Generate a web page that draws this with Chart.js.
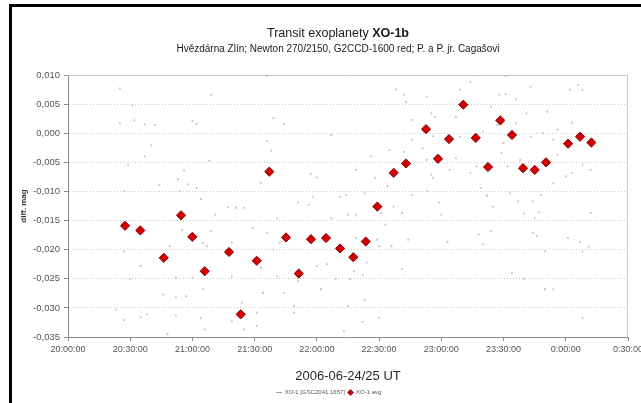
<!DOCTYPE html>
<html><head><meta charset="utf-8">
<script src="https://cdn.jsdelivr.net/npm/chart.js@4"></script>
<style>
html,body{margin:0;padding:0;background:#fff;}
#wrap{position:relative;width:641px;height:403px;overflow:hidden;}
#frame{position:absolute;left:9px;top:4px;right:-5px;bottom:-5px;border-top:3px solid #000;border-left:3px solid #000;pointer-events:none;}
canvas{position:absolute;left:0;top:0;}
</style></head><body>
<div id="wrap"><canvas id="c" width="641" height="403"></canvas><div id="frame"></div></div>
<script>
const titleNormal = 'Transit exoplanety ';
const titleBold = 'XO-1b';
const subtitle = 'Hvězdárna Zlín; Newton 270/2150, G2CCD-1600 red; P. a P. jr. Cagašovi';
const xAxisTitle = '2006-06-24/25 UT';
const yAxisTitle = 'diff. mag';
const rawLabel = 'XO-1 [GSC2041.1657]';
const avgLabel = 'XO-1 avg';
const xStart = '20:00:00';
const xEnd = '0:30:00';
const xStepMinutes = 30;
const yMin = -0.035, yMax = 0.010, yStep = 0.005;

const avgTimes = ['20:27:29','20:34:52','20:46:09','20:54:29','20:59:56','21:05:55','21:17:38','21:23:16','21:30:59','21:37:04',
'21:45:07','21:51:14','21:57:10','22:04:24','22:11:08','22:17:34','22:23:33','22:29:09','22:37:02','22:42:58',
'22:52:37','22:58:24','23:03:42','23:10:36','23:16:35','23:22:31','23:28:27','23:34:05','23:39:23','23:45:02',
'23:50:29','0:01:06','0:06:53','0:12:20'];
const avgValues = [-0.0159,-0.0167,-0.0214,-0.0141,-0.0178,-0.0237,-0.0204,-0.0311,-0.0219,-0.0066,
-0.0179,-0.0241,-0.0182,-0.0180,-0.0198,-0.0213,-0.0186,-0.0126,-0.0068,-0.0052,
0.0007,-0.0044,-0.0010,0.0049,-0.0008,-0.0058,0.0022,-0.0003,-0.0060,-0.0063,
-0.0050,-0.0018,-0.0006,-0.0016];

const rawTimes = ['20:25','21:09','21:36','20:31','20:25','20:32','20:37','20:42','21:00','21:02',
'21:39','21:44','22:07','20:40','20:37','20:29','21:08','21:36','21:38','20:56',
'20:53','20:44','20:58','21:02','21:33','21:57','22:00','22:19','20:54','22:11',
'22:14','21:58','20:27','21:04','21:17','21:21','21:25','21:11','21:51','21:56',
'22:07','21:41','20:55','21:09','21:29','21:36','22:15','22:19','20:27','20:35',
'20:49','21:05','21:07','21:19','21:39','21:42','20:30','20:52','21:00','21:19',
'21:33','21:41','21:51','22:00','22:05','22:02','22:09','22:16','20:46','20:52',
'20:57','21:05','21:34','21:44','20:23','20:38','20:35','20:52','21:04','21:19',
'21:24','21:31','21:49','22:15','20:27','21:06','21:25','20:48','21:31','22:13',
'21:49',
'22:38','22:42','23:17','23:31','23:14','23:09','23:28','23:31','23:43','0:02',
'0:06','0:08','22:43','22:53','22:55','22:57','22:46','23:07','23:36','23:41',
'23:24','23:51','0:03','23:56','23:49','23:27','23:36','22:46','22:56','23:09',
'23:20','23:30','23:43','23:54','0:13','22:26','22:35','22:42','22:51','22:53',
'23:07','23:17','23:14','23:29','23:32','23:38','23:49','23:56','0:03','0:08',
'0:12','22:28','22:34','22:55','22:56','23:04','23:19','23:33','23:48','23:54',
'0:00','22:23',
'22:46','22:53','23:22','23:37','23:44','22:59','22:37','22:41','22:31','23:00',
'23:25','23:40','23:45','23:47','0:12','22:33','23:24','23:18','23:44','23:46',
'0:01','0:07','0:11','0:08','23:50','22:44','23:03','23:20','22:36','22:30',
'22:29','22:19','22:24','22:41','22:18','22:22','23:34','23:40','23:50','23:54',
'22:23','22:22','22:30','0:08'];
const rawValues = [0.0077,0.0066,0.0098,0.0048,0.0017,0.0022,0.0015,0.0014,0.0021,0.0016,
0.0026,0.0016,-0.0003,-0.0021,-0.0040,-0.0054,-0.0047,-0.0013,-0.0030,-0.0064,
-0.0079,-0.0089,-0.0088,-0.0094,-0.0085,-0.0070,-0.0076,-0.0063,-0.0100,-0.0109,
-0.0106,-0.0109,-0.0100,-0.0113,-0.0127,-0.0128,-0.0128,-0.0140,-0.0119,-0.0123,
-0.0146,-0.0146,-0.0166,-0.0168,-0.0163,-0.0171,-0.0140,-0.0140,-0.0203,-0.0228,
-0.0194,-0.0188,-0.0194,-0.0188,-0.0200,-0.0188,-0.0251,-0.0248,-0.0248,-0.0246,
-0.0231,-0.0246,-0.0254,-0.0228,-0.0225,-0.0268,-0.0251,-0.0251,-0.0277,-0.0282,
-0.0280,-0.0268,-0.0274,-0.0274,-0.0303,-0.0311,-0.0316,-0.0313,-0.0317,-0.0323,
-0.0291,-0.0308,-0.0297,-0.0297,-0.0321,-0.0337,-0.0337,-0.0345,-0.0331,-0.0340,
-0.0308,
0.0075,0.0066,0.0100,0.0098,0.0088,0.0075,0.0066,0.0067,0.0080,0.0075,
0.0083,0.0074,0.0054,0.0063,0.0034,0.0028,0.0023,0.0028,0.0058,0.0034,
0.0046,0.0037,0.0018,0.0006,0.0000,0.0014,0.0017,-0.0011,-0.0005,-0.0006,
0.0003,-0.0017,-0.0006,-0.0011,-0.0011,-0.0040,-0.0029,-0.0032,-0.0026,-0.0046,
-0.0043,-0.0057,-0.0068,-0.0034,-0.0057,-0.0046,-0.0051,-0.0037,-0.0068,-0.0054,
-0.0063,-0.0077,-0.0091,-0.0071,-0.0077,-0.0063,-0.0094,-0.0103,-0.0106,-0.0086,
-0.0074,-0.0103,
-0.0106,-0.0100,-0.0107,-0.0117,-0.0117,-0.0119,-0.0126,-0.0137,-0.0137,-0.0140,
-0.0126,-0.0138,-0.0146,-0.0136,-0.0137,-0.0157,-0.0168,-0.0174,-0.0171,-0.0177,
-0.0180,-0.0187,-0.0195,-0.0203,-0.0203,-0.0183,-0.0187,-0.0191,-0.0194,-0.0194,
-0.0183,-0.0180,-0.0222,-0.0233,-0.0237,-0.0244,-0.0240,-0.0250,-0.0268,-0.0268,
-0.0287,-0.0324,-0.0317,-0.0317];

const FONT = '"Liberation Sans", Arial, Helvetica, sans-serif';
Chart.defaults.font.family = FONT;

function toMinutes(s) {
  const p = s.split(':').map(Number);
  let m = p[0] * 60 + p[1] + (p[2] || 0) / 60;
  if (p[0] < 12) m += 1440;
  return m;
}
function fmtTime(v) {
  const m = Math.round(v) % 1440;
  const h = Math.floor(m / 60), mm = m % 60;
  return h + ':' + String(mm).padStart(2, '0') + ':00';
}
function fmtVal(v) {
  if (Math.abs(v) < 1e-9) v = 0;
  return v.toFixed(3).replace('.', ',');
}

const rawData = rawTimes.map((t, i) => ({x: toMinutes(t), y: rawValues[i]}));
const avgData = avgTimes.map((t, i) => ({x: toMinutes(t), y: avgValues[i]}));

const decor = {
  id: 'decor',
  beforeDatasetsDraw(chart) {
    const ctx = chart.ctx, a = chart.chartArea;
    ctx.save();
    ctx.strokeStyle = '#c6c6c6';
    ctx.lineWidth = 1;
    ctx.beginPath();
    ctx.moveTo(a.left, Math.round(a.top) + 0.5);
    ctx.lineTo(Math.round(a.right) - 0.5, Math.round(a.top) + 0.5);
    ctx.lineTo(Math.round(a.right) - 0.5, a.bottom);
    ctx.stroke();
    ctx.restore();
  },
  afterDraw(chart) {
    const ctx = chart.ctx;
    ctx.save();
    ctx.fillStyle = '#1a1a1a';
    ctx.textBaseline = 'middle';
    const cx = 338;
    ctx.font = '12.5px ' + FONT;
    const w1 = ctx.measureText(titleNormal).width;
    ctx.font = 'bold 12.5px ' + FONT;
    const w2 = ctx.measureText(titleBold).width;
    const x0 = cx - (w1 + w2) / 2;
    ctx.textAlign = 'left';
    ctx.font = '12.5px ' + FONT;
    ctx.fillText(titleNormal, x0, 34);
    ctx.font = 'bold 12.5px ' + FONT;
    ctx.fillText(titleBold, x0 + w1, 34);
    ctx.font = '10px ' + FONT;
    ctx.textAlign = 'center';
    ctx.fillText(subtitle, cx, 49);
    ctx.restore();
  }
};

new Chart(document.getElementById('c'), {
  type: 'scatter',
  data: {
    datasets: [
      {
        label: rawLabel,
        data: rawData,
        pointStyle: 'rect',
        pointRadius: 1.3,
        pointHoverRadius: 1.3,
        backgroundColor: '#c2c2c2',
        borderWidth: 0,
        order: 2
      },
      {
        label: avgLabel,
        data: avgData,
        pointStyle: 'rectRot',
        pointRadius: 4.6,
        pointHoverRadius: 4.6,
        backgroundColor: '#d20000',
        borderColor: '#8a0000',
        borderWidth: 1,
        order: 1
      }
    ]
  },
  options: {
    responsive: false,
    animation: false,
    devicePixelRatio: 1,
    layout: {padding: {left: 30, right: 13, top: 75, bottom: 0}},
    plugins: {
      tooltip: {enabled: false},
      title: {display: false},
      legend: {
        position: 'bottom',
        maxHeight: 16.5,
        labels: {
          font: {size: 6, family: FONT},
          color: '#555',
          padding: 3,
          usePointStyle: true,
          boxWidth: 5,
          boxHeight: 4,
          sort: (a, b) => a.datasetIndex - b.datasetIndex,
          generateLabels: (chart) => chart.data.datasets.map((ds, i) => ({
            text: ds.label,
            fillStyle: ds.backgroundColor,
            strokeStyle: i === 0 ? '#9a9a9a' : ds.borderColor,
            lineWidth: 1,
            pointStyle: i === 0 ? 'line' : 'rectRot',
            datasetIndex: i,
            hidden: false,
            fontColor: '#555'
          }))
        }
      }
    },
    scales: {
      x: {
        type: 'linear',
        min: toMinutes(xStart),
        max: toMinutes(xEnd),
        ticks: {
          stepSize: xStepMinutes,
          autoSkip: false,
          maxRotation: 0,
          color: '#555',
          font: {size: 9},
          padding: 3,
          callback: (v) => fmtTime(v)
        },
        grid: {drawOnChartArea: false, tickLength: 4, tickColor: '#8a8a8a'},
        border: {color: '#8a8a8a', width: 1},
        title: {display: true, text: xAxisTitle, color: '#2a2a2a', font: {size: 13}, padding: {top: 0, bottom: 2.7}},
        afterFit(s) { s.height = 49.5; s.paddingLeft = 0; s.paddingRight = 0; }
      },
      y: {
        min: yMin,
        max: yMax,
        ticks: {
          stepSize: yStep,
          color: '#555',
          font: {size: 9.5},
          padding: 4,
          callback: (v) => fmtVal(v)
        },
        grid: {color: '#c8c8c8', lineWidth: 1, tickLength: 4, tickColor: '#8a8a8a'},
        border: {color: '#8a8a8a', width: 1, dash: [1, 2]},
        title: {display: true, text: yAxisTitle, color: '#333', font: {size: 8, weight: 'bold'}, padding: {top: -10.8, bottom: 0}},
        afterFit(s) { s.width = 38; s.paddingTop = 0; s.paddingBottom = 0; }
      }
    }
  },
  plugins: [decor]
});
</script>
</body></html>
